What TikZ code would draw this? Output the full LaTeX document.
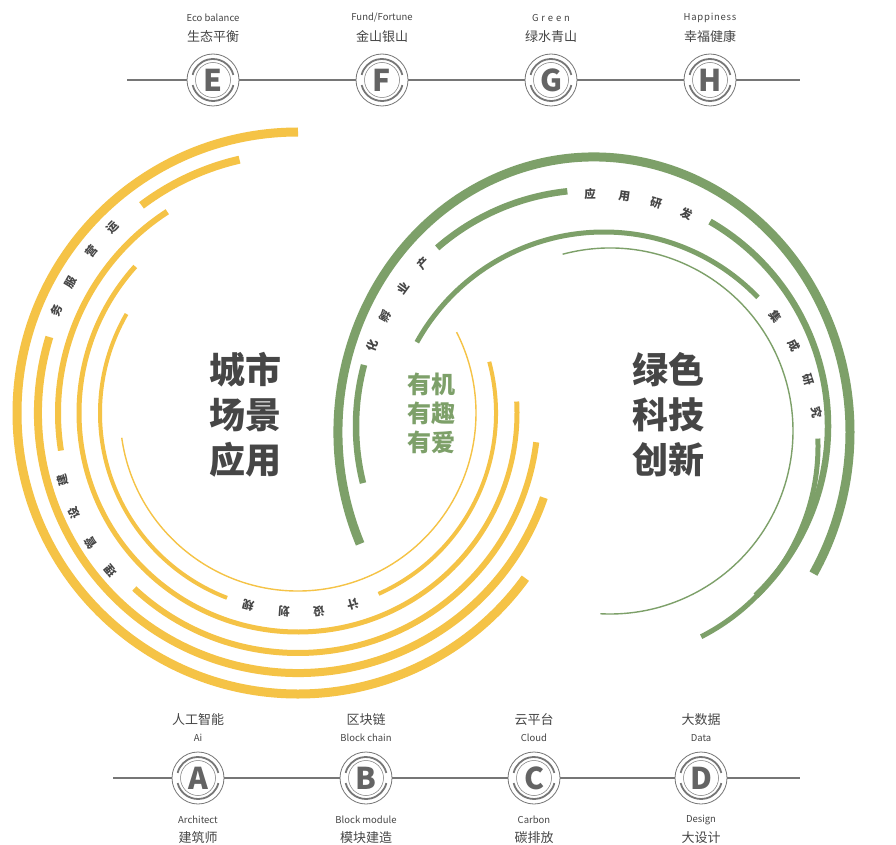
\documentclass[tikz,border=0pt]{standalone}
\usepackage{fontspec}
\newfontfamily\cjk{Noto Sans CJK SC}
\usetikzlibrary{positioning}

\definecolor{ylw}{RGB}{245,195,70}
\definecolor{grn}{RGB}{125,160,105}
\definecolor{ink}{RGB}{70,70,70}
\definecolor{steel}{RGB}{118,118,118}

\tikzset{
    yarc/.style={draw=ylw, line width=#1},
    garc/.style={draw=grn, line width=#1},
    arcchar/.style={font=\cjk\bfseries\fontsize{11.5}{11.5}\selectfont, text=ink, inner sep=0pt},
    bigword/.style={font=\cjk\bfseries\fontsize{36}{45}\selectfont, text=ink, align=center},
    badge/.style={circle, draw=steel, line width=0.8pt, fill=white, minimum size=52pt, inner sep=0pt,
        text=steel!85!black, font=\cjk\bfseries\fontsize{30}{30}\selectfont,
        path picture={
            \draw[steel, line width=1.8pt] (path picture bounding box.center) ++(14:21pt) arc[start angle=14, end angle=166, radius=21pt];
            \draw[steel, line width=1.8pt] (path picture bounding box.center) ++(194:21pt) arc[start angle=194, end angle=346, radius=21pt];
            \draw[steel, line width=0.5pt] (path picture bounding box.center) circle (17.5pt);
        }},
    entext/.style={font=\cjk\fontsize{9.5}{10}\selectfont, text=ink},
    cntext/.style={font=\cjk\fontsize{13}{13}\selectfont, text=ink},
    tline/.style={draw=steel, line width=2.5pt},
}

\begin{document}
\begin{tikzpicture}[x=1pt, y=1pt]
    \fill[white] (0,0) rectangle (896,-845);
    \useasboundingbox (0,0) rectangle (896,-845);

    % yellow rings
    \begin{scope}[shift={(298,-413)}]
        \foreach \r/\w/\a/\b in {281/9/90/324, 260/8/103/127, 260/8/163/341, 240/6/123/189, 240/6/227/353,
                                 219/5/138/363, 198/4/150/249, 198/4/294/375, 178/1.4/188/387}
            \path[yarc=\w pt] (\a:\r) arc[start angle=\a, end angle=\b, radius=\r];
        \foreach \t/\c [count=\i] in {135/运, 142/营, 150/服, 157/务}
            \node[arcchar, rotate=\t-90] (ops\i) at (\t:262) {\c};
        \foreach \t/\c [count=\i] in {196/建, 204/设, 212/管, 220/理}
            \node[arcchar, rotate=\t-90] (build\i) at (\t:245) {\c};
        \foreach \t/\c [count=\i] in {255.5/规, 266/划, 276/设, 286/计}
            \node[arcchar, rotate=\t-90] (plan\i) at (\t:199) {\c};
    \end{scope}

    % green rings
    \path[garc=9pt] (594,-432) ++(204:256 and 275) arc[start angle=204, end angle=-31, x radius=256, y radius=275];
    \begin{scope}[shift={(592,-426)}]
        \foreach \a/\b in {194/165, 131/96, 60/-46}
            \path[garc=6.5pt] (\a:236) arc[start angle=\a, end angle=\b, radius=236];
        \foreach \t/\c [count=\i] in {136/产, 144/业, 152/孵, 160/化}
            \node[arcchar, rotate=\t-90] (ind\i) at (\t:234) {\c};
        \foreach \t/\c [count=\i] in {90.5/应, 82/用, 74/研, 66/发}
            \node[arcchar, rotate=\t-90] (app\i) at (\t:232) {\c};
    \end{scope}
    \begin{scope}[shift={(604,-446)}]
        \foreach \a/\b in {151/44, 2/-63}
            \path[garc=5pt] (\a:214) arc[start angle=\a, end angle=\b, radius=214];
        \foreach \t/\c [count=\i] in {37/集, 28/成, 18/研, 9/究}
            \node[arcchar, rotate=\t-90] (res\i) at (\t:215) {\c};
    \end{scope}
    \path[garc=1.4pt] (610,-431) ++(105:183) arc[start angle=105, end angle=-93, radius=183];

    % centre words
    \node[bigword] (city) at (245,-415) {城市\\场景\\应用};
    \node[bigword] (tech) at (668,-415) {绿色\\科技\\创新};
    \node[font=\cjk\bfseries\fontsize{24}{29}\selectfont, text=grn, align=center] (motto) at (431,-413) {有机\\有趣\\有爱};

    % top timeline
    \coordinate (tl) at (127,-80);
    \coordinate (tr) at (800,-80);
    \foreach \n/\x in {E/213, F/382, G/551, H/710}
        \node[badge] (\n) at (\x,-80) {\n};
    \path[tline] (tl) -- (E) -- (F) -- (G) -- (H) -- (tr);
    \foreach \n/\x/\en/\cn in {E/213/Eco balance/生态平衡, F/382/{Fund/Fortune}/金山银山,
                               G/551/{\addfontfeature{LetterSpace=30}Green}/绿水青山,
                               H/710/{\addfontfeature{LetterSpace=8}Happiness}/幸福健康}
    {
        \node[entext] (\n-en) at (\x,-18) {\en};
        \node[cntext] (\n-cn) at (\x,-37) {\cn};
    }

    % bottom timeline
    \coordinate (bl) at (113,-778);
    \coordinate (br) at (800,-778);
    \foreach \n/\x in {A/198, B/366, C/534, D/701}
        \node[badge] (\n) at (\x,-778) {\n};
    \path[tline] (bl) -- (A) -- (B) -- (C) -- (D) -- (br);
    \foreach \n/\x/\cn/\en/\eb/\cb in {A/198/人工智能/Ai/Architect/建筑师, B/366/区块链/Block chain/Block module/模块建造,
                                       C/534/云平台/Cloud/Carbon/碳排放, D/701/大数据/Data/Design/大设计}
    {
        \node[cntext] (\n-cn) at (\x,-720) {\cn};
        \node[entext] (\n-en) at (\x,-738) {\en};
        \node[entext] (\n-eb) at (\x,-820) {\eb};
        \node[cntext] (\n-cb) at (\x,-838) {\cb};
    }
\end{tikzpicture}
\end{document}
